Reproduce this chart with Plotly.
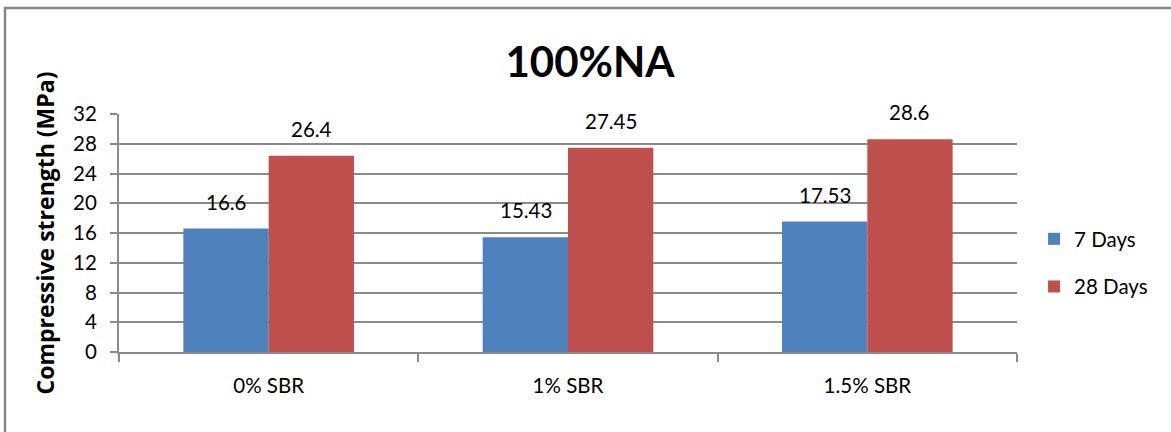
import plotly.graph_objects as go

categories = ["0% SBR", "1% SBR", "1.5% SBR"]
days7 = [16.6, 15.43, 17.53]
days28 = [26.4, 27.45, 28.6]
label7 = ["16.6", "15.43", "17.53"]
label28 = ["26.4", "27.45", "28.6"]
series_names = ["7 Days", "28 Days"]
y_ticks = [0, 4, 8, 12, 16, 20, 24, 28, 32]

FONT = "Lato"
GRID = "#8a8a8a"

fig = go.Figure()
fig.add_trace(go.Bar(x=categories, y=days7, name=series_names[0], marker=dict(color="#4F81BD", line=dict(width=0)), legendgroup="a"))
fig.add_trace(go.Bar(x=categories, y=days28, name=series_names[1], marker=dict(color="#C0504D", line=dict(width=0)), legendgroup="b"))

annotations = []
for cat, v, t in zip(categories, days7, label7):
    annotations.append(dict(x=cat, y=v, text=t, xref="x", yref="y", showarrow=False,
                            xshift=-42.5, yshift=27, yanchor="middle",
                            font=dict(family=FONT, size=20.5, color="#000")))
for cat, v, t in zip(categories, days28, label28):
    annotations.append(dict(x=cat, y=v, text=t, xref="x", yref="y", showarrow=False,
                            xshift=42.5, yshift=27, yanchor="middle",
                            font=dict(family=FONT, size=20.5, color="#000")))

fig.update_layout(
    width=1171, height=432,
    margin=dict(l=119, r=154, t=114, b=80, autoexpand=False),
    paper_bgcolor="white", plot_bgcolor="white",
    barmode="group", bargap=0.43, bargroupgap=0,
    font=dict(family=FONT, size=20, color="#000"),
    title=dict(text="<b>100%NA</b>", x=(590 / 1171), xanchor="center", y=1 - 62 / 432, yanchor="middle",
               font=dict(family=FONT, size=42, color="#000")),
    legend=dict(x=1.019, y=0.374, xanchor="left", yanchor="middle", tracegroupgap=18,
                font=dict(family=FONT, size=20.5, color="#000"), bgcolor="rgba(0,0,0,0)"),
    annotations=annotations,
    shapes=[dict(type="rect", xref="paper", yref="paper",
                 x0=(5 - 119) / 898, x1=(1175 - 119) / 898,
                 y0=(352 - 445) / 238, y1=(352 - 8) / 238,
                 line=dict(color="#868686", width=2.5), layer="below")],
)
fig.update_xaxes(type="category", tickson="boundaries", ticks="outside", ticklen=8, tickwidth=2, tickcolor=GRID,
                 showline=True, linecolor=GRID, linewidth=2, showgrid=False,
                 tickfont=dict(family=FONT, size=20.5, color="#000"), ticklabelstandoff=14)
fig.update_yaxes(range=[0, 32], tickvals=y_ticks, ticks="outside", ticklen=7, tickwidth=2, tickcolor=GRID,
                 showline=True, linecolor=GRID, linewidth=2, showgrid=True, gridcolor=GRID, gridwidth=2,
                 zeroline=False, tickfont=dict(family=FONT, size=20.5, color="#000"), ticklabelstandoff=9,
                 title=dict(text="<b>Compressive strength (MPa)</b>", standoff=12,
                            font=dict(family="Open Sans", size=23, color="#000")))

fig.write_html("out.html")
